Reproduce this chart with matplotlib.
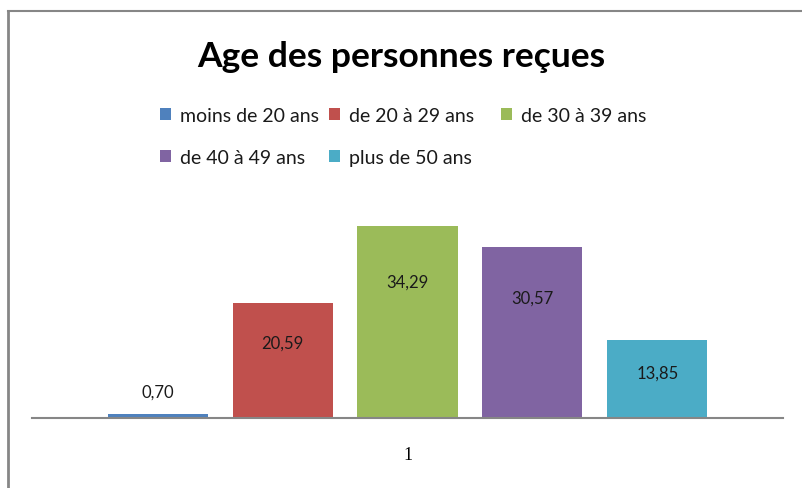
import matplotlib
matplotlib.use('Agg')
from matplotlib import pyplot as plt
from matplotlib.lines import Line2D

categories = ['moins de 20 ans', 'de 20 à 29 ans', 'de 30 à 39 ans',
              'de 40 à 49 ans', 'plus de 50 ans']
values = [0.70, 20.59, 34.29, 30.57, 13.85]
labels = ['0,70', '20,59', '34,29', '30,57', '13,85']
colors = ['#4f81bd', '#c0504d', '#9bbb59', '#8064a2', '#4bacc6']
xticklabels = ['1']

fig = plt.figure(figsize=(8.02, 4.89), dpi=100)
ax = fig.add_axes([32/802, 70/489, 751/802, 224/489])

step = 0.1664
width = 0.1332
bars = []
for i, (cat, v, c) in enumerate(zip(categories, values, colors)):
    x = 1 + (i - 2) * step
    b = ax.bar(x, v, width=width, color=c, label=cat)
    bars.append(b)
    if v < 3:
        ax.text(x, v + 4.0, labels[i], ha='center', va='center',
                fontsize=12, family='Lato', color='#1a1a1a')
    else:
        ax.text(x, v * 0.8 - 3, labels[i], ha='center', va='center',
                fontsize=12, family='Lato', color='#1a1a1a')

ax.set_xlim(0.5, 1.5)
ax.set_ylim(0, 40)
ax.set_xticks([1])
ax.set_xticklabels(xticklabels, family='Liberation Serif', fontsize=13)
ax.tick_params(axis='x', length=0, pad=20)
ax.set_yticks([])
for s in ['top', 'right', 'left']:
    ax.spines[s].set_visible(False)
ax.spines['bottom'].set_color('#868686')
ax.spines['bottom'].set_linewidth(1.5)

# Excel fills the legend row by row, in equal-width columns
columns = [[0, 3], [1, 4], [2]]
col_x = [146, 315, 487]
for idx, cx in zip(columns, col_x):
    fig.legend([bars[k] for k in idx], [categories[k] for k in idx],
               loc='upper left', bbox_to_anchor=(cx/802, 1 - 94/489),
               frameon=False, prop={'family': 'Lato', 'size': 14},
               handlelength=0.6, handleheight=0.6, handletextpad=0.45,
               labelspacing=1.3, labelcolor='#1a1a1a',
               borderpad=0.2)

fig.text(0.5, 1 - 57/489, 'Age des personnes reçues', ha='center', va='center',
         fontsize=25.5, fontweight='bold', family='Lato')

# chart frame (only the left and top edges are visible)
fig.add_artist(Line2D([7.5/802, 7.5/802], [0, 1 - 12/489],
                      transform=fig.transFigure, color='#868686', lw=2))
fig.add_artist(Line2D([7.5/802, 1], [1 - 12/489, 1 - 12/489],
                      transform=fig.transFigure, color='#868686', lw=1.5))

plt.savefig('out.png', dpi=100)
